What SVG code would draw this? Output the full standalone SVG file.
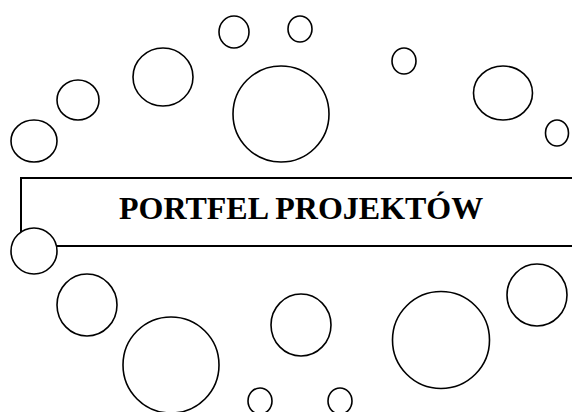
<svg xmlns="http://www.w3.org/2000/svg" width="572" height="412" viewBox="0 0 572 412">
<style>
.c{fill:#fff;stroke:#000;stroke-width:1.6}
.f{fill:none;stroke:#000;stroke-width:2}
.t{font-family:"Liberation Serif","Times New Roman",serif;font-weight:bold;font-size:32px;fill:#000}
</style>
<rect width="572" height="412" fill="#fff"/>
<g id="frame">
<path class="f" d="M572,178 H21 V246 H572"/>
<text class="t" x="119" y="219">PORTFEL PROJEKTÓW</text>
</g>
<g id="bubbles">
<ellipse id="b1" class="c" cx="234" cy="32" rx="15" ry="16"/>
<ellipse id="b2" class="c" cx="300" cy="29" rx="12" ry="13"/>
<ellipse id="b3" class="c" cx="163" cy="77" rx="30" ry="29"/>
<ellipse id="b4" class="c" cx="78" cy="100" rx="21" ry="20"/>
<ellipse id="b5" class="c" cx="34" cy="141" rx="23" ry="21"/>
<circle id="b6" class="c" cx="281" cy="114" r="48"/>
<ellipse id="b7" class="c" cx="404" cy="61" rx="12" ry="13"/>
<ellipse id="b8" class="c" cx="503" cy="93" rx="29.5" ry="27"/>
<ellipse id="b9" class="c" cx="557" cy="133" rx="11.5" ry="13"/>
<circle id="b10" class="c" cx="34" cy="251" r="23"/>
<ellipse id="b11" class="c" cx="87" cy="305" rx="30" ry="31"/>
<circle id="b12" class="c" cx="171" cy="365" r="48"/>
<ellipse id="b13" class="c" cx="260" cy="401" rx="12" ry="13"/>
<ellipse id="b14" class="c" cx="301" cy="325" rx="30" ry="31"/>
<ellipse id="b15" class="c" cx="340" cy="401" rx="12" ry="13"/>
<circle id="b16" class="c" cx="441" cy="340" r="48.5"/>
<ellipse id="b17" class="c" cx="537" cy="295" rx="30" ry="31"/>
</g>
</svg>
